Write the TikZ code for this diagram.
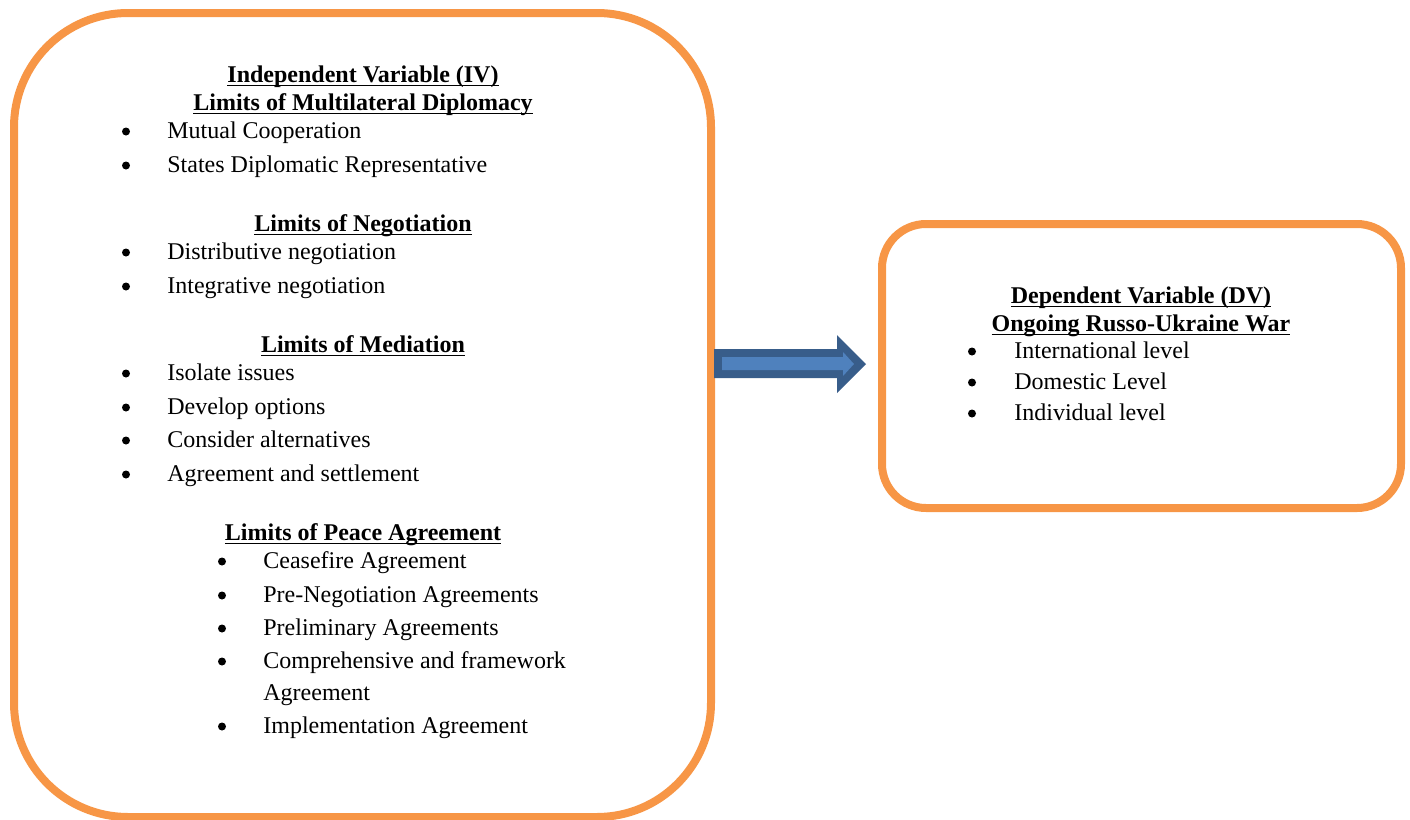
\documentclass[tikz,border=0pt]{standalone}
\usepackage{fontspec}
\setmainfont{Liberation Serif}
\usetikzlibrary{positioning}

\definecolor{boxorange}{HTML}{F79646}
\definecolor{arrowblue}{HTML}{4F81BD}
\definecolor{arrowdark}{HTML}{385D8A}
\newcommand{\headline}[1]{\leavevmode\setbox0\hbox{#1}\rlap{\vrule width\wd0 height -1.3pt depth 2.2pt}\box0}

\begin{document}
\begin{tikzpicture}[x=0.5pt, y=-0.5pt, font=\fontsize{12}{14}\selectfont,
    varbox/.style={draw=boxorange, line width=4pt, inner sep=0pt},
    heading/.style={anchor=base, inner sep=0pt, font=\fontsize{12}{14}\selectfont\bfseries},
    dot/.style={circle, fill=black, inner sep=0pt, minimum size=4pt},
    item/.style={anchor=base west, inner sep=0pt}]
\useasboundingbox (0,0) rectangle (1410,820);

% Independent variable box
\node[varbox, rounded corners=57pt, minimum width=348.5pt, minimum height=402pt] (ivbox) at (362.5,415) {};

\node[heading] (ivtitle) at (363,82) {\headline{Independent Variable (IV)}};
\node[heading] (diplomacy) at (363,110) {\headline{Limits of Multilateral Diplomacy}};
\node[dot] (d1) at (126,131.5) {};
\node[item] (mutual) at (167,138) {Mutual Cooperation};
\node[dot] (d2) at (126,165.5) {};
\node[item] (states) at (167,172) {States Diplomatic Representative};

\node[heading] (negotiation) at (363,231) {\headline{Limits of Negotiation}};
\node[dot] (n1) at (126,252.5) {};
\node[item] (distributive) at (167,259) {Distributive negotiation};
\node[dot] (n2) at (126,286.5) {};
\node[item] (integrative) at (167,293) {Integrative negotiation};

\node[heading] (mediation) at (363,352) {\headline{Limits of Mediation}};
\node[dot] (m1) at (126,373.5) {};
\node[item] (isolate) at (167,380) {Isolate issues};
\node[dot] (m2) at (126,407.5) {};
\node[item] (develop) at (167,414) {Develop options};
\node[dot] (m3) at (126,440.5) {};
\node[item] (consider) at (167,447) {Consider alternatives};
\node[dot] (m4) at (126,474.5) {};
\node[item] (settlement) at (167,481) {Agreement and settlement};

\node[heading] (peace) at (363,540) {\headline{Limits of Peace Agreement}};
\node[dot] (p1) at (222,561.5) {};
\node[item] (ceasefire) at (263,568) {Ceasefire Agreement};
\node[dot] (p2) at (222,595.5) {};
\node[item] (prenego) at (263,602) {Pre-Negotiation Agreements};
\node[dot] (p3) at (222,628.5) {};
\node[item] (preliminary) at (263,635) {Preliminary Agreements};
\node[dot] (p4) at (222,661.5) {};
\node[item] (comprehensive) at (263,668) {Comprehensive and framework};
\node[item] (comprehensive2) at (263,700) {Agreement};
\node[dot] (p5) at (222,726.5) {};
\node[item] (implementation) at (263,733) {Implementation Agreement};

% Dependent variable box
\node[varbox, rounded corners=22pt, minimum width=259.5pt, minimum height=142pt] (dvbox) at (1141.5,366) {};

\node[heading] (dvtitle) at (1141,303) {\headline{Dependent Variable (DV)}};
\node[heading] (war) at (1141,331) {\headline{Ongoing Russo-Ukraine War}};
\node[dot] (w1) at (972,351.5) {};
\node[item] (international) at (1014,358) {International level};
\node[dot] (w2) at (972,382.5) {};
\node[item] (domestic) at (1014,389) {Domestic Level};
\node[dot] (w3) at (972,413.5) {};
\node[item] (individual) at (1014,420) {Individual level};

% Block arrow IV -> DV
\fill[arrowdark] (714,349) -- (837,349) -- (837,335) -- (866,364) -- (837,393) -- (837,378) -- (714,378) -- cycle;
\fill[arrowblue] (722,357) -- (843,357) -- (843,352) -- (854,364) -- (843,376) -- (843,370) -- (722,370) -- cycle;
\end{tikzpicture}
\end{document}
